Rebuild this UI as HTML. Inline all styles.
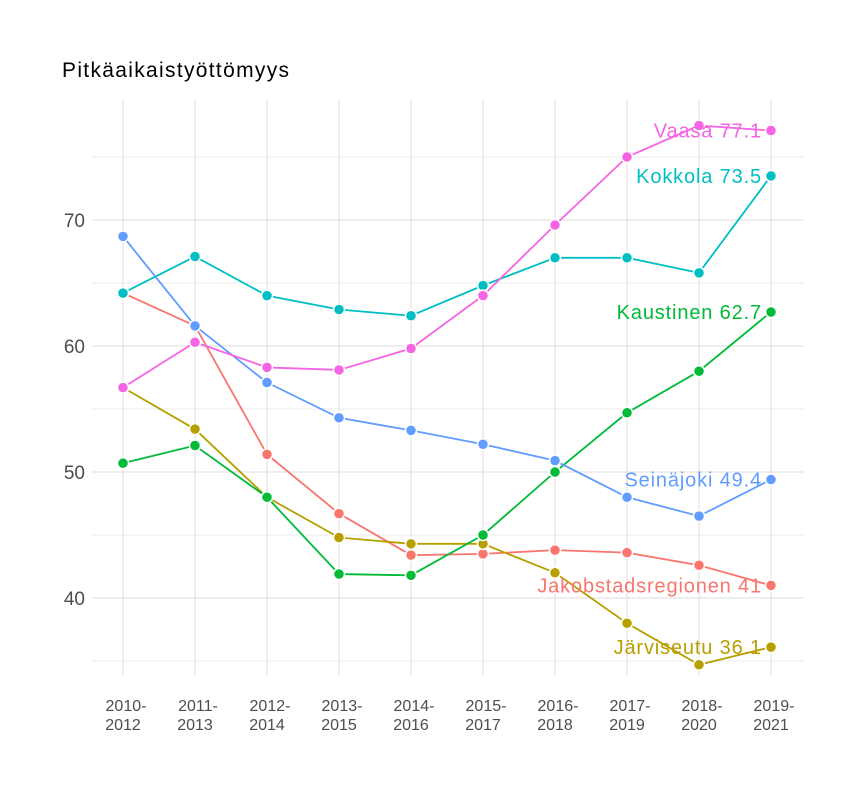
<!DOCTYPE html>
<html><head><meta charset="utf-8"><style>
html,body{margin:0;padding:0;background:#fff;}
svg text{font-family:"Liberation Sans",sans-serif;}
</style></head><body>
<svg id="chart" width="864" height="792" xmlns="http://www.w3.org/2000/svg">
<text x="62" y="77" font-size="21" fill="#000" textLength="227" lengthAdjust="spacing">Pitkäaikaistyöttömyys</text>
<g id="grid"></g><g id="lines"></g><g id="pts"></g><g id="labels"></g><g id="axes"></g>
</svg>
<script>
const categories=["2010-2012","2011-2013","2012-2014","2013-2015","2014-2016","2015-2017","2016-2018","2017-2019","2018-2020","2019-2021"];
const seriesNames=["Jakobstadsregionen","Järviseutu","Kaustinen","Kokkola","Seinäjoki","Vaasa"];
const seriesColors=["#F8766D","#B79F00","#00BA38","#00BFC4","#619CFF","#F564E3"];
const jakobstad=[64.2,61.6,51.4,46.7,43.4,43.5,43.8,43.6,42.6,41];
const jarviseutu=[56.7,53.4,48.0,44.8,44.3,44.3,42.0,38.0,34.7,36.1];
const kaustinen=[50.7,52.1,48.0,41.9,41.8,45.0,50.0,54.7,58.0,62.7];
const kokkola=[64.2,67.1,64.0,62.9,62.4,64.8,67.0,67.0,65.8,73.5];
const seinajoki=[68.7,61.6,57.1,54.3,53.3,52.2,50.9,48.0,46.5,49.4];
const vaasa=[56.7,60.3,58.3,58.1,59.8,64.0,69.6,75.0,77.5,77.1];
const seriesValues=[jakobstad,jarviseutu,kaustinen,kokkola,seinajoki,vaasa];
const yTicks=[40,50,60,70];
const yMinor=[35,45,55,65,75];

const NS="http://www.w3.org/2000/svg";
const x=i=>123+i*72;
const y=v=>598-(v-40)*12.6;
function mk(tag,attrs,parent){const e=document.createElementNS(NS,tag);for(const k in attrs)e.setAttribute(k,attrs[k]);document.getElementById(parent).appendChild(e);return e;}
const L=92,R=804,T=100,B=675;
yMinor.forEach(v=>{const e=mk("line",{x1:L,x2:R,y1:y(v),y2:y(v),stroke:"#ebebeb","stroke-width":1},"grid");

});
yTicks.forEach(v=>{const e=mk("line",{x1:L,x2:R,y1:y(v),y2:y(v),stroke:"#dedede","stroke-width":1},"grid");


const t=mk("text",{x:85,y:y(v)+7,"font-size":19,fill:"#4d4d4d","text-anchor":"end"},"axes");t.textContent=v;

});
categories.forEach((c,i)=>{const e=mk("line",{x1:x(i),x2:x(i),y1:T,y2:B,stroke:"#dedede","stroke-width":1},"grid");


const parts=c.split("-");
const t=mk("text",{x:x(i),y:711,"font-size":16,fill:"#4d4d4d","text-anchor":"middle"},"axes");


const a=document.createElementNS(NS,"tspan");a.setAttribute("x",x(i)+3);a.textContent=parts[0]+"-";t.appendChild(a);
const b=document.createElementNS(NS,"tspan");b.setAttribute("x",x(i));b.setAttribute("dy","19");b.textContent=parts[1];t.appendChild(b);});
seriesValues.forEach((vals,s)=>{
 const p=mk("polyline",{points:vals.map((v,i)=>x(i)+","+y(v)).join(" "),fill:"none",stroke:seriesColors[s],"stroke-width":1.8},"lines");
 
 
 vals.forEach((v,i)=>{const c=mk("circle",{cx:x(i),cy:y(v),r:5.5,fill:seriesColors[s],stroke:"#fff","stroke-width":1.5},"pts");
 
 });
 const last=vals[vals.length-1];
 const t=mk("text",{x:762,y:y(last)+7,"font-size":20,"letter-spacing":0.85,fill:seriesColors[s],"text-anchor":"end"},"labels");
 t.textContent=seriesNames[s]+" "+last;
 
 
});
</script>
</body></html>
